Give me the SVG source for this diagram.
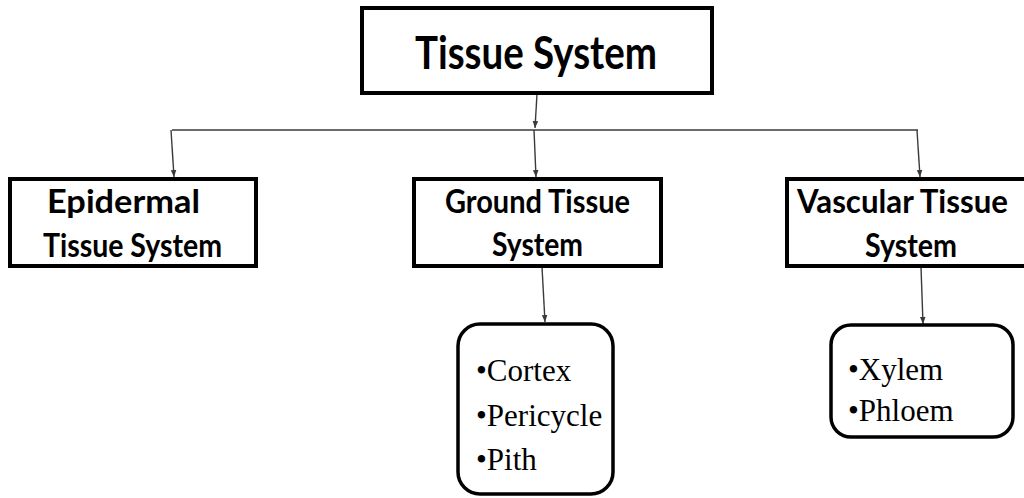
<svg xmlns="http://www.w3.org/2000/svg" width="1024" height="498" viewBox="0 0 1024 498">
<style>
.box{fill:#fff;stroke:#000;stroke-width:4}
.lbox{fill:#fff;stroke:#000;stroke-width:3.5}
.hd{font-family:Lato,"Liberation Sans",sans-serif;font-weight:bold;fill:#000}
.li{font-family:"Liberation Serif","Times New Roman",serif;font-size:31px;fill:#000}
.con{fill:none;stroke:#3a3a3a;stroke-width:1.4}
</style>
<defs>
<marker id="ar" viewBox="0 0 10 10" refX="10" refY="5" markerWidth="7" markerHeight="7" markerUnits="userSpaceOnUse" orient="auto">
<path d="M0,1 L10,5 L0,9 z" fill="#3a3a3a"/>
</marker>
</defs>
<rect width="1024" height="498" fill="#fff"/>
<g id="connectors">
<path class="con" d="M172,130 H918"/>
<path class="con" d="M537,94 L535,128" marker-end="url(#ar)"/>
<path class="con" d="M171,130 L174,177" marker-end="url(#ar)"/>
<path class="con" d="M534,130 L536,177" marker-end="url(#ar)"/>
<path class="con" d="M917,130 L920,177" marker-end="url(#ar)"/>
<path class="con" d="M542,267 L545,322" marker-end="url(#ar)"/>
<path class="con" d="M921,267 L923,324" marker-end="url(#ar)"/>
</g>
<g id="tissue-system">
<rect class="box" x="362" y="8" width="350" height="85"/>
<text class="hd" x="415" y="69" font-size="45" textLength="242" lengthAdjust="spacingAndGlyphs">Tissue System</text>
</g>
<g id="epidermal">
<rect class="box" x="10" y="179" width="246" height="87"/>
<text class="hd" x="47" y="213" font-size="32" textLength="153" lengthAdjust="spacingAndGlyphs">Epidermal</text>
<text class="hd" x="43" y="257" font-size="32" textLength="179" lengthAdjust="spacingAndGlyphs">Tissue System</text>
</g>
<g id="ground">
<rect class="box" x="414" y="179" width="247" height="87"/>
<text class="hd" x="445" y="213" font-size="32" textLength="185" lengthAdjust="spacingAndGlyphs">Ground Tissue</text>
<text class="hd" x="492" y="256" font-size="32" textLength="91" lengthAdjust="spacingAndGlyphs">System</text>
</g>
<g id="vascular">
<rect class="box" x="787" y="179" width="240" height="87"/>
<text class="hd" x="797" y="213" font-size="32" textLength="211" lengthAdjust="spacingAndGlyphs">Vascular Tissue</text>
<text class="hd" x="865" y="257" font-size="32" textLength="92" lengthAdjust="spacingAndGlyphs">System</text>
</g>
<g id="ground-list">
<rect class="lbox" x="458" y="324" width="155" height="170" rx="22"/>
<text class="li" x="476" y="381">•Cortex</text>
<text class="li" x="476" y="426">•Pericycle</text>
<text class="li" x="476" y="470">•Pith</text>
</g>
<g id="vascular-list">
<rect class="lbox" x="831" y="325" width="182" height="112" rx="20"/>
<text class="li" x="848" y="380">•Xylem</text>
<text class="li" x="848" y="421">•Phloem</text>
</g>
</svg>
